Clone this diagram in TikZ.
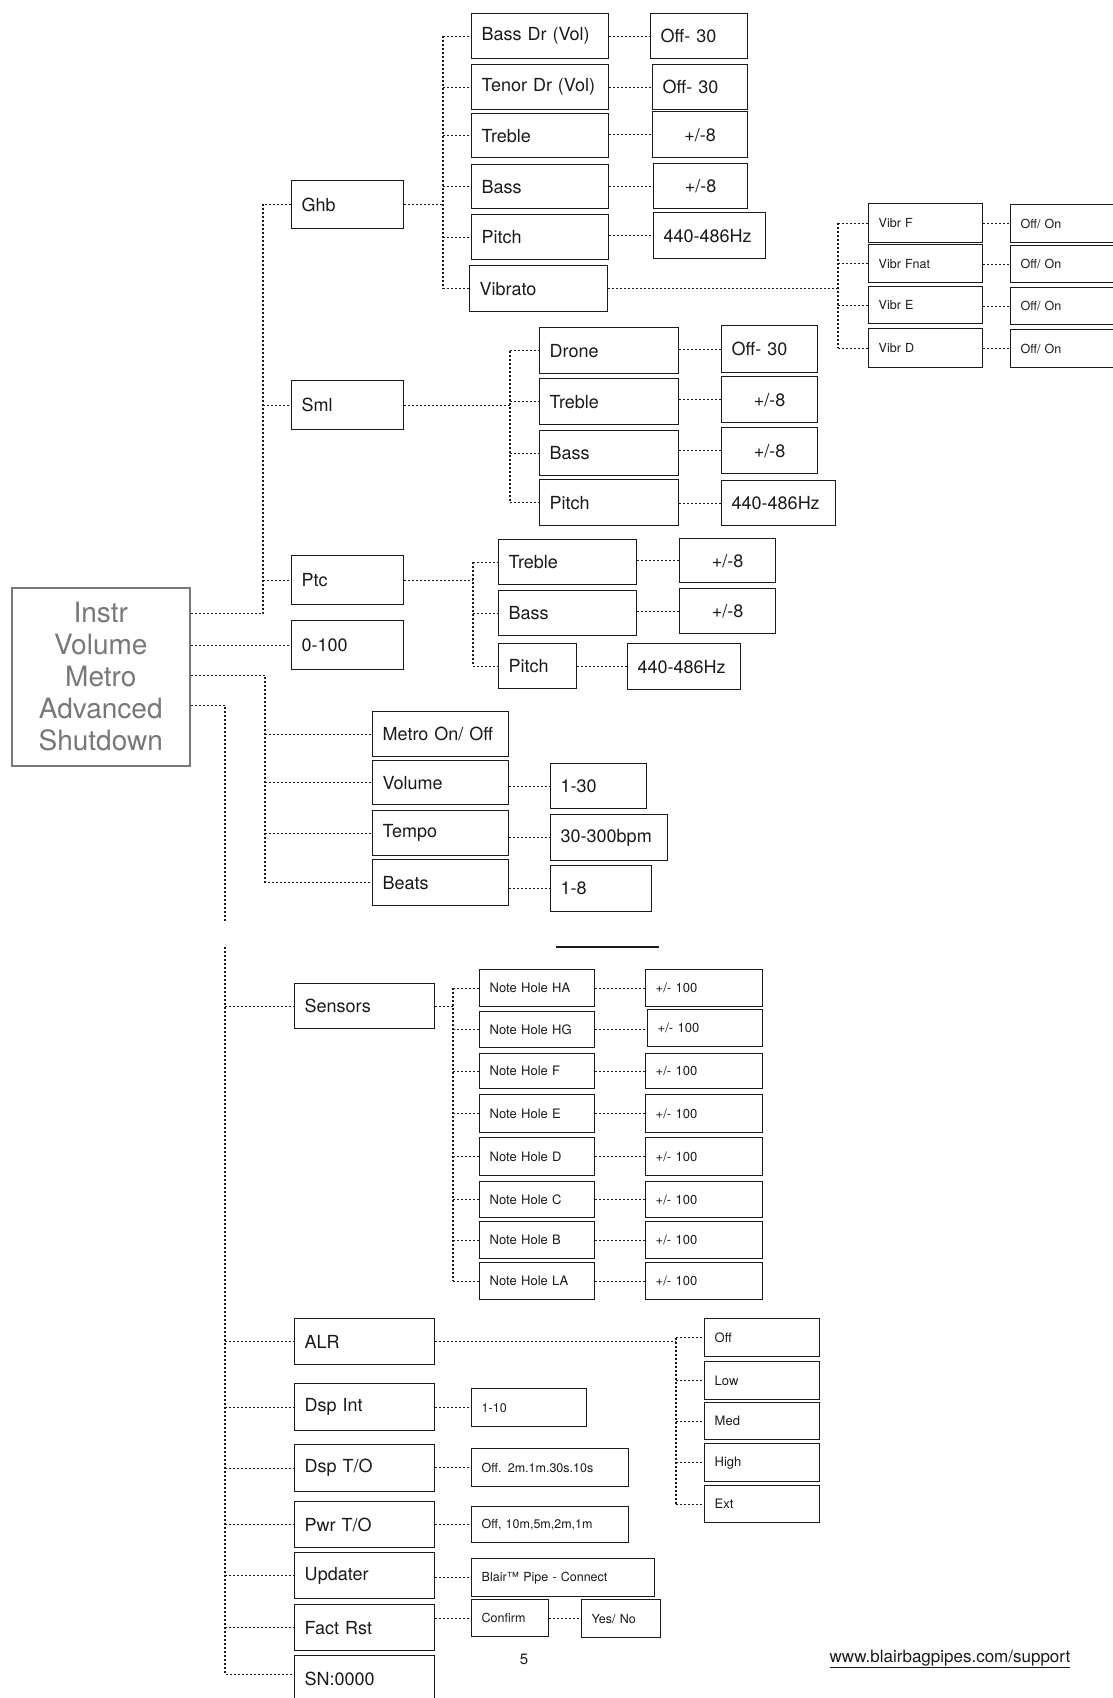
\documentclass[tikz,border=0pt]{standalone}
\usepackage{fontspec}
\setmainfont{TeX Gyre Heros}
\usetikzlibrary{calc}
\definecolor{ink}{HTML}{1A1A1A}
\definecolor{instrgray}{HTML}{787878}
\tikzset{
  box/.style={draw=ink, line width=1.4pt, rectangle, inner xsep=10pt, inner ysep=1pt, text=ink, align=left, font=\fontsize{18}{20}\selectfont},
  sm/.style={font=\fontsize{12.5}{14}\selectfont},
  nh/.style={font=\fontsize{13}{15}\selectfont},
  ctr/.style={align=center},
  conn/.style={draw=ink, line width=1.2pt, dash pattern=on 2pt off 2pt},
}
\newcommand\bx[7][]{\pgfmathsetmacro\bxw{#5-#3-20}\pgfmathsetmacro\bxh{#6-#4}%
  \node[box,#1,anchor=north west,text width=\bxw pt,minimum height=\bxh pt] (#2) at (#3,#4) {\mbox{#7}};}
\begin{document}
\begin{tikzpicture}[x=1pt,y=-1pt]
\useasboundingbox[fill=white] (0,0) rectangle (1113,1698);

% root
\node[draw=instrgray, line width=1.5pt, text=instrgray, font=\fontsize{28}{32}\selectfont, align=center,
      minimum width=178pt, minimum height=178pt, anchor=north west, inner sep=0pt, text depth=-4pt] (instr) at (11,587)
      {Instr\\Volume\\Metro\\Advanced\\Shutdown};

% level 1 (instrument)
\bx{ghb}{291}{180}{403}{228}{Ghb}
\bx{sml}{291}{380}{403}{429}{Sml}
\bx{ptc}{291}{555}{403}{604}{Ptc}
\bx{vol}{291}{620}{403}{669}{0-100}

% Ghb children
\bx{bassdr}{471}{13}{608}{58}{Bass Dr (Vol)}
\bx{tenordr}{471}{64}{608}{109}{Tenor Dr (Vol)}
\bx{gtreble}{471}{113}{608}{157}{Treble}
\bx{gbass}{471}{164}{608}{208}{Bass}
\bx{gpitch}{471}{214}{608}{259}{Pitch}
\bx{vibrato}{469}{265}{607}{311}{Vibrato}
\bx{v1}{650}{13}{747}{58}{Off- 30}
\bx{v2}{652}{64}{747}{109}{Off- 30}
\bx[ctr]{v3}{652}{111}{747}{157}{+/-8}
\bx[ctr]{v4}{653}{163}{747}{208}{+/-8}
\bx{v5}{653}{212}{765}{258}{440-486Hz}

% Vibrato children
\bx[sm]{vf}{868}{203}{982}{242}{Vibr F}
\bx[sm]{vfn}{868}{244}{982}{282}{Vibr Fnat}
\bx[sm]{ve}{868}{286}{982}{323}{Vibr E}
\bx[sm]{vd}{868}{328}{982}{367}{Vibr D}
\bx[sm]{of1}{1010}{204}{1135}{242}{Off/ On}
\bx[sm]{of2}{1010}{245}{1135}{282}{Off/ On}
\bx[sm]{of3}{1010}{287}{1135}{324}{Off/ On}
\bx[sm]{of4}{1010}{329}{1135}{367}{Off/ On}

% Sml children
\bx{drone}{539}{327}{678}{373}{Drone}
\bx{streble}{539}{378}{678}{424}{Treble}
\bx{sbass}{539}{430}{678}{475}{Bass}
\bx{spitch}{539}{479}{678}{525}{Pitch}
\bx{s1}{721}{325}{817}{372}{Off- 30}
\bx[ctr]{s2}{721}{376}{817}{422}{+/-8}
\bx[ctr]{s3}{721}{427}{817}{473}{+/-8}
\bx{s4}{721}{480}{835}{525}{440-486Hz}

% Ptc children
\bx{ptreble}{498}{539}{636}{584}{Treble}
\bx{pbass}{498}{590}{636}{635}{Bass}
\bx{ppitch}{498}{643}{576}{688}{Pitch}
\bx[ctr]{p1}{679}{538}{775}{582}{+/-8}
\bx[ctr]{p2}{679}{588}{775}{633}{+/-8}
\bx{p3}{627}{643}{740}{689}{440-486Hz}

% Metro
\bx{monoff}{372}{711}{508}{756}{Metro On/ Off}
\bx{mvol}{372}{760}{508}{804}{Volume}
\bx{mtempo}{372}{810}{508}{855}{Tempo}
\bx{mbeats}{372}{859}{508}{905}{Beats}
\bx{m1}{550}{763}{646}{808}{1-30}
\bx{m2}{550}{814}{667}{860}{30-300bpm}
\bx{m3}{550}{865}{651}{911}{1-8}

% separator
\draw[ink, line width=2pt] (556,947) -- (659,947);

% Advanced
\bx{sensors}{294}{983}{434}{1028}{Sensors}
\bx[nh]{nh1}{479}{969}{594}{1006}{Note Hole HA}
\bx[nh]{nh2}{479}{1011}{594}{1047}{Note Hole HG}
\bx[nh]{nh3}{479}{1053}{594}{1088}{Note Hole F}
\bx[nh]{nh4}{479}{1094}{594}{1132}{Note Hole E}
\bx[nh]{nh5}{479}{1137}{594}{1175}{Note Hole D}
\bx[nh]{nh6}{479}{1181}{594}{1217}{Note Hole C}
\bx[nh]{nh7}{479}{1221}{594}{1258}{Note Hole B}
\bx[nh]{nh8}{479}{1262}{594}{1299}{Note Hole LA}
\bx[nh]{pm1}{645}{969}{762}{1006}{+/- 100}
\bx[nh]{pm2}{647}{1009}{762}{1046}{+/- 100}
\bx[nh]{pm3}{645}{1053}{762}{1088}{+/- 100}
\bx[nh]{pm4}{645}{1094}{762}{1132}{+/- 100}
\bx[nh]{pm5}{645}{1137}{762}{1175}{+/- 100}
\bx[nh]{pm6}{645}{1181}{762}{1217}{+/- 100}
\bx[nh]{pm7}{645}{1221}{762}{1258}{+/- 100}
\bx[nh]{pm8}{645}{1262}{762}{1299}{+/- 100}

\bx{alr}{294}{1318}{434}{1364}{ALR}
\bx{dspint}{294}{1383}{434}{1430}{Dsp Int}
\bx{dspto}{294}{1444}{434}{1491}{Dsp T/O}
\bx{pwrto}{294}{1501}{434}{1547}{Pwr T/O}
\bx{updater}{294}{1552}{434}{1598}{Updater}
\bx{factrst}{294}{1604}{434}{1650}{Fact Rst}
\bx{sn}{294}{1655}{434}{1702}{SN:0000}

\bx[nh]{aoff}{704}{1318}{819}{1356}{Off}
\bx[nh]{alow}{704}{1361}{819}{1399}{Low}
\bx[nh]{amed}{704}{1402}{819}{1439}{Med}
\bx[nh]{ahigh}{704}{1443}{819}{1481}{High}
\bx[nh]{aext}{704}{1485}{819}{1522}{Ext}

\bx[sm]{d1}{471}{1388}{586}{1426}{1-10}
\bx[sm]{d2}{471}{1448}{628}{1486}{Off. 2m.1m.30s.10s}
\bx[sm]{d3}{471}{1506}{628}{1542}{Off, 10m,5m,2m,1m}
\bx[sm]{d4}{471}{1558}{654}{1596}{Blair™ Pipe - Connect}
\bx[sm]{d5}{471}{1599}{548}{1636}{Confirm}
\bx[sm]{d6}{581}{1599}{660}{1637}{Yes/ No}

\node[text=ink, font=\fontsize{15}{17}\selectfont] (pagenum) at (524,1659) {5};
\node[text=ink, font=\fontsize{17}{19}\selectfont] (url) at (950,1659) {\underline{www.blairbagpipes.com/support}};

% ---------- connectors ----------
\coordinate (mainx) at (263,0);
\coordinate (metx) at (265,0);
\coordinate (advx) at (225,0);
\coordinate (gbx) at (443,0);
\coordinate (vbx) at (838,0);
\coordinate (sbx) at (510,0);
\coordinate (pbx) at (473,0);
\coordinate (nbx) at (453,0);
\coordinate (abx) at (676,0);
\coordinate (i1) at ([yshift=63pt]instr.east);
\coordinate (i3) at ([yshift=1pt]instr.east);
\coordinate (i4) at ([yshift=-29pt]instr.east);
\coordinate (gapA) at (225,922);
\coordinate (gapB) at (225,947);
\coordinate (snport) at ([yshift=5pt]sn.west);

% root
\draw[conn] (i1) -| (ghb.west -| mainx) -- (ghb.west);
\draw[conn] (sml.west -| mainx) -- (sml.west);
\draw[conn] (ptc.west -| mainx) -- (ptc.west);
\draw[conn] (vol.west -| instr.east) -- (vol.west);
\draw[conn] (i3) -| (mbeats.west -| metx) -- (mbeats.west);
\foreach \n in {monoff,mvol,mtempo} \draw[conn] (\n.west -| metx) -- (\n.west);
\draw[conn] (i4) -| (gapA);
\draw[conn] (gapB) |- (snport);
\foreach \n in {sensors,alr,dspint,dspto,pwrto,updater,factrst} \draw[conn] (\n.west -| advx) -- (\n.west);

% Ghb
\draw[conn] (ghb.east) -- (ghb.east -| gbx);
\draw[conn] (bassdr.west -| gbx) -- (vibrato.west -| gbx);
\foreach \n in {bassdr,tenordr,gtreble,gbass,gpitch,vibrato} \draw[conn] (\n.west -| gbx) -- (\n.west);
\foreach \a/\b in {bassdr/v1,tenordr/v2,gtreble/v3,gbass/v4,gpitch/v5} \draw[conn] (\a.east |- \b.west) -- (\b.west);

% Vibrato
\draw[conn] (vibrato.east) -- (vibrato.east -| vbx);
\draw[conn] (vf.west -| vbx) -- (vd.west -| vbx);
\foreach \n in {vf,vfn,ve,vd} \draw[conn] (\n.west -| vbx) -- (\n.west);
\foreach \a/\b in {vf/of1,vfn/of2,ve/of3,vd/of4} \draw[conn] (\a.east |- \b.west) -- (\b.west);

% Sml
\draw[conn] (sml.east) -- (sml.east -| sbx);
\draw[conn] (drone.west -| sbx) -- (spitch.west -| sbx);
\foreach \n in {drone,streble,sbass,spitch} \draw[conn] (\n.west -| sbx) -- (\n.west);
\foreach \a/\b in {drone/s1,streble/s2,sbass/s3,spitch/s4} \draw[conn] (\a.east |- \b.west) -- (\b.west);

% Ptc
\draw[conn] (ptc.east) -- (ptc.east -| pbx);
\draw[conn] (ptreble.west -| pbx) -- (ppitch.west -| pbx);
\foreach \n in {ptreble,pbass,ppitch} \draw[conn] (\n.west -| pbx) -- (\n.west);
\foreach \a/\b in {ptreble/p1,pbass/p2,ppitch/p3} \draw[conn] (\a.east |- \b.west) -- (\b.west);

% Metro values
\foreach \a/\b in {mvol/m1,mtempo/m2,mbeats/m3} \draw[conn] (\a.east |- \b.west) -- (\b.west);

% Sensors
\draw[conn] (sensors.east) -- (sensors.east -| nbx);
\draw[conn] (nh1.west -| nbx) -- (nh8.west -| nbx);
\foreach \i in {1,...,8} {
  \draw[conn] (nh\i.west -| nbx) -- (nh\i.west);
  \draw[conn] (nh\i.east) -- (nh\i.east -| pm\i.west);
}

% ALR
\draw[conn] (alr.east) -- (alr.east -| abx);
\draw[conn] (aoff.west -| abx) -- (aext.west -| abx);
\foreach \n in {aoff,alow,amed,ahigh,aext} \draw[conn] (\n.west -| abx) -- (\n.west);

% others
\foreach \a/\b in {dspint/d1,dspto/d2,pwrto/d3,updater/d4,factrst/d5,d5/d6} \draw[conn] (\a.east |- \b.west) -- (\b.west);
\end{tikzpicture}
\end{document}
